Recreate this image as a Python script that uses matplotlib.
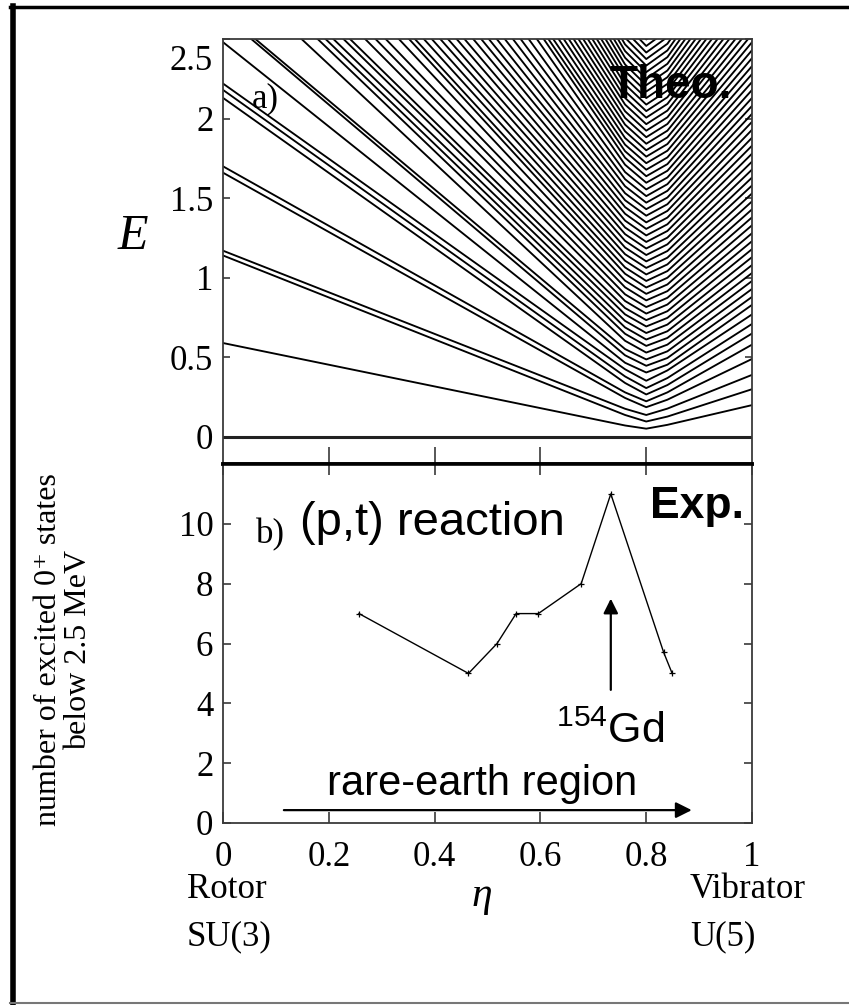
import numpy as np
import matplotlib.pyplot as plt
from matplotlib.lines import Line2D

plt.rcParams['font.family'] = ['Liberation Serif', 'DejaVu Serif']
plt.rcParams['mathtext.fontset'] = 'custom'
plt.rcParams['mathtext.rm'] = 'Liberation Sans'

# panel a): 0+ level energies read off at a few values of eta
eta_nodes = [0.0, 0.76, 0.8, 0.84, 1.0]
e_rotor = [0.59, 1.14, 1.17, 1.66, 1.70, 2.13, 2.18, 2.22, 2.48, 2.65,
           2.67, 2.96, 3.07, 3.12, 3.17, 3.24, 3.28, 3.40, 3.48, 3.56,
           3.68, 3.77, 3.81, 3.89, 3.96, 4.04, 4.11, 4.20, 4.28, 4.38,
           4.47, 4.56, 4.66, 4.77, 4.89, 5.01, 5.15, 5.31, 5.44, 5.49,
           5.55, 5.64, 5.72, 5.80, 5.88, 5.96, 6.04, 6.12, 6.20, 6.28,
           6.36, 6.44, 6.52, 6.60, 6.68, 6.76, 6.84, 6.92, 7.00, 7.08,
           7.16, 7.24]
e_076 = [0.072, 0.138, 0.177, 0.245, 0.280, 0.339, 0.380, 0.425, 0.466, 0.513,
         0.552, 0.604, 0.648, 0.688, 0.729, 0.770, 0.810, 0.854, 0.896, 0.940,
         0.982, 1.025, 1.065, 1.107, 1.148, 1.190, 1.232, 1.274, 1.316, 1.359,
         1.402, 1.444, 1.487, 1.531, 1.575, 1.619, 1.664, 1.710, 1.754, 1.795,
         1.836, 1.878, 1.920, 1.962, 2.004, 2.046, 2.088, 2.130, 2.172, 2.214,
         2.256, 2.298, 2.340, 2.382, 2.424, 2.466, 2.508, 2.552, 2.594, 2.636,
         2.678, 2.720]
e_vertex = [0.052, 0.097, 0.138, 0.187, 0.224, 0.267, 0.307, 0.353, 0.405, 0.447,
            0.487, 0.530, 0.572, 0.612, 0.653, 0.694, 0.734, 0.775, 0.816, 0.858,
            0.899, 0.939, 0.980, 1.021, 1.062, 1.103, 1.143, 1.184, 1.225, 1.266,
            1.307, 1.348, 1.390, 1.431, 1.472, 1.513, 1.555, 1.597, 1.638, 1.679,
            1.720, 1.761, 1.801, 1.842, 1.883, 1.924, 1.965, 2.006, 2.047, 2.088,
            2.129, 2.170, 2.210, 2.251, 2.292, 2.333, 2.374, 2.415, 2.456, 2.497,
            2.538, 2.579]
e_084 = [0.076, 0.128, 0.178, 0.234, 0.280, 0.326, 0.370, 0.418, 0.454, 0.496,
         0.538, 0.580, 0.622, 0.664, 0.706, 0.748, 0.790, 0.832, 0.874, 0.916,
         0.958, 1.000, 1.042, 1.084, 1.126, 1.168, 1.210, 1.252, 1.294, 1.336,
         1.378, 1.420, 1.462, 1.504, 1.546, 1.588, 1.630, 1.672, 1.714, 1.756,
         1.798, 1.840, 1.882, 1.924, 1.966, 2.008, 2.050, 2.092, 2.134, 2.176,
         2.218, 2.260, 2.302, 2.344, 2.386, 2.428, 2.470, 2.512, 2.554, 2.596,
         2.638, 2.680]
e_vibrator = [0.20, 0.30, 0.39, 0.49, 0.58, 0.65, 0.71, 0.77, 0.83, 0.88,
              0.93, 0.98, 1.03, 1.08, 1.13, 1.18, 1.23, 1.28, 1.33, 1.38,
              1.43, 1.48, 1.53, 1.58, 1.63, 1.68, 1.73, 1.78, 1.83, 1.88,
              1.93, 1.98, 2.03, 2.08, 2.13, 2.18, 2.23, 2.28, 2.33, 2.38,
              2.43, 2.48, 2.53, 2.58, 2.63, 2.68, 2.73, 2.78, 2.83, 2.88,
              2.93, 2.98, 3.03, 3.08, 3.13, 3.18, 3.23, 3.28, 3.33, 3.38,
              3.43, 3.48]

# panel b): number of excited 0+ states below 2.5 MeV, (p,t) data
eta_exp = [0.257, 0.464, 0.518, 0.554, 0.596, 0.677, 0.733, 0.833, 0.849]
n_exp = [7, 5, 6, 7, 7, 8, 11, 5.7, 5]

e_ticks = [0, 0.5, 1, 1.5, 2, 2.5]
e_ticklabels = ['0', '0.5', '1', '1.5', '2', '']
n_ticks = [0, 2, 4, 6, 8, 10]
eta_ticks = [0, 0.2, 0.4, 0.6, 0.8, 1.0]
eta_ticklabels = ['0', '0.2', '0.4', '0.6', '0.8', '1']

sans = ['Liberation Sans', 'DejaVu Sans']
spine_col = '#3a3a3a'

fig = plt.figure(figsize=(8.49, 10.05), dpi=100)
ax1 = fig.add_axes([0.2627, 0.5383, 0.6231, 0.4229])
ax2 = fig.add_axes([0.2627, 0.1811, 0.6231, 0.3572])

# --- top panel
for i in range(len(e_vertex)):
    ax1.plot(eta_nodes, [e_rotor[i], e_076[i], e_vertex[i], e_084[i], e_vibrator[i]],
             color='black', lw=1.35, solid_joinstyle='round')
ax1.axhline(0, color='#222222', lw=2.2)

ax1.set_xlim(0, 1)
ax1.set_ylim(-0.17, 2.5)
ax1.set_xticks([0.2, 0.4, 0.6, 0.8])
ax1.set_xticklabels([])
ax1.set_yticks(e_ticks)
ax1.set_yticklabels(e_ticklabels)
ax1.tick_params(axis='x', direction='in', length=12, width=1.2, color=spine_col)
ax1.tick_params(axis='y', direction='in', length=5, width=1.2, color=spine_col,
                left=True, right=True, labelsize=25, pad=7)
ax1.text(-0.019, 2.36, '2.5', transform=ax1.get_yaxis_transform(),
         ha='right', va='center', fontsize=25)
for s in ax1.spines.values():
    s.set_color(spine_col)
    s.set_linewidth(1.3)
ax1.spines['bottom'].set_color('black')
ax1.spines['bottom'].set_linewidth(2.6)

ax1.text(0.055, 2.07, 'a)', fontsize=25, ha='left', va='baseline')
ax1.text(0.962, 2.13, 'Theo.', family=sans, fontweight='bold', fontsize=33,
         ha='right', va='baseline')
fig.text(133 / 849, 1 - 237 / 1005, 'E', style='italic', fontsize=36,
         ha='center', va='center')

# --- bottom panel
ax2.plot(eta_exp, n_exp, color='black', lw=1.0, marker='+', ms=5, mew=0.9)
ax2.set_xlim(0, 1)
ax2.set_ylim(0, 12)
ax2.set_xticks(eta_ticks)
ax2.set_xticklabels(eta_ticklabels)
ax2.set_yticks(n_ticks)
ax2.tick_params(axis='x', direction='in', length=8, width=1.2, color=spine_col,
                top=True, bottom=True, labelsize=25, pad=13)
ax2.tick_params(axis='y', direction='in', length=6, width=1.2, color=spine_col,
                left=True, right=True, labelsize=25, pad=7)
for s in ax2.spines.values():
    s.set_color(spine_col)
    s.set_linewidth(1.3)
ax2.spines['top'].set_color('black')
ax2.spines['top'].set_linewidth(2.6)

ax2.text(0.063, 9.36, 'b)', fontsize=25, ha='left', va='baseline')
ax2.text(0.146, 9.63, '(p,t) reaction', family=sans, fontsize=34,
         ha='left', va='baseline')
ax2.text(0.985, 10.2, 'Exp.', family=sans, fontweight='bold', fontsize=32,
         ha='right', va='baseline')
ax2.annotate('', xy=(0.733, 7.5), xytext=(0.733, 4.45),
             arrowprops=dict(arrowstyle='-|>', color='black', lw=1.6,
                             mutation_scale=22, shrinkA=0, shrinkB=0))
ax2.text(0.63, 2.68, r'$\mathregular{^{154}}$Gd', family=sans, fontsize=31,
         ha='left', va='baseline')
ax2.annotate('', xy=(0.886, 0.43), xytext=(0.115, 0.43),
             arrowprops=dict(arrowstyle='-|>', color='black', lw=1.6,
                             mutation_scale=24, shrinkA=0, shrinkB=0))
ax2.text(0.49, 0.94, 'rare-earth region', family=sans, fontsize=30,
         ha='center', va='baseline')

fig.text(63.5 / 849, 1 - 650 / 1005,
         'number of excited 0\u207a states\nbelow 2.5 MeV',
         rotation=90, fontsize=23, ha='center', va='center',
         multialignment='center', linespacing=1.05)

# labels under the eta axis
fig.text(187 / 849, 1 - 898 / 1005, 'Rotor', fontsize=25, ha='left', va='baseline')
fig.text(187 / 849, 1 - 945 / 1005, 'SU(3)', fontsize=25, ha='left', va='baseline')
fig.text(690 / 849, 1 - 898 / 1005, 'Vibrator', fontsize=25, ha='left', va='baseline')
fig.text(690 / 849, 1 - 945 / 1005, 'U(5)', fontsize=25, ha='left', va='baseline')
fig.text(482 / 849, 1 - 906 / 1005, '\u03b7', style='italic', fontsize=30,
         ha='center', va='baseline')

# page frame
fig.add_artist(Line2D([12.5 / 849, 12.5 / 849], [1 - 6 / 1005, 1 - 1003 / 1005],
                      color='black', lw=4, transform=fig.transFigure))
fig.add_artist(Line2D([10 / 849, 1], [1 - 7 / 1005, 1 - 7 / 1005],
                      color='black', lw=2.5, transform=fig.transFigure))
fig.add_artist(Line2D([10 / 849, 1], [1 - 1003 / 1005, 1 - 1003 / 1005],
                      color='#777777', lw=1.5, transform=fig.transFigure))

fig.savefig('out.png', dpi=100)
